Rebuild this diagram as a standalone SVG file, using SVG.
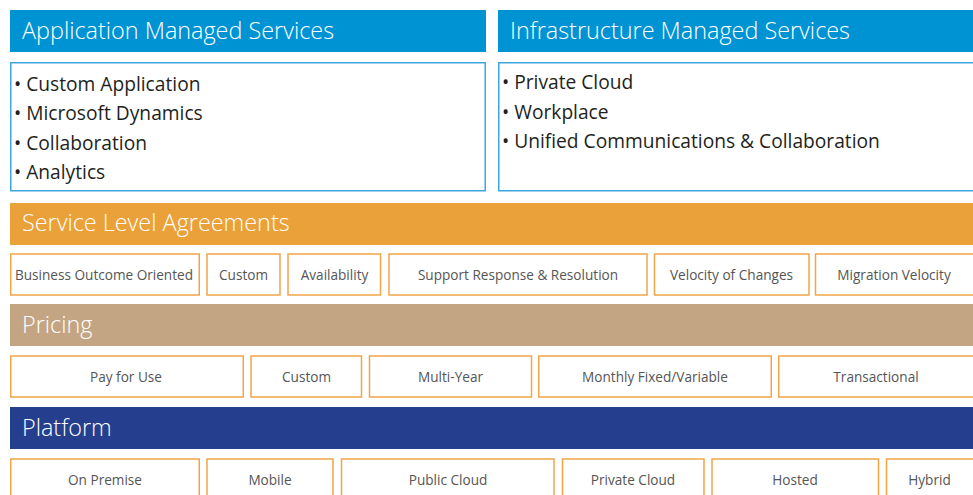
<svg xmlns="http://www.w3.org/2000/svg" width="973" height="495" viewBox="0 0 973 495">
<style>
.hdr{font-family:"Open Sans","Liberation Sans",sans-serif;font-weight:300;font-size:23.4px;fill:#ffffff}
.blue{fill:#0093d3}
.cbox{fill:#ffffff;stroke:#3ea6de;stroke-width:1.5}
.item{font-family:"Open Sans","Liberation Sans",sans-serif;font-size:19.2px;fill:#231f20}
.obox{fill:#ffffff;stroke:#f0a548;stroke-width:1.5}
.lbl{font-family:"Open Sans","Liberation Sans",sans-serif;font-size:13.6px;fill:#555555;text-anchor:middle}
</style>
<rect width="973" height="495" fill="#ffffff"/>
<g id="app-managed">
<rect class="blue" x="10" y="10" width="476" height="42"/>
<text class="hdr" x="22" y="39">Application Managed Services</text>
<rect class="cbox" x="10.75" y="62.75" width="474.5" height="128"/>
<text class="item" x="14" y="91">• Custom Application</text>
<text class="item" x="14" y="120">• Microsoft Dynamics</text>
<text class="item" x="14" y="149.5">• Collaboration</text>
<text class="item" x="14" y="178.5">• Analytics</text>
</g>
<g id="infra-managed">
<rect class="blue" x="498" y="10" width="476" height="42"/>
<text class="hdr" x="510" y="39">Infrastructure Managed Services</text>
<rect class="cbox" x="498.75" y="62.75" width="476" height="128"/>
<text class="item" x="502" y="89">• Private Cloud</text>
<text class="item" x="502" y="119">• Workplace</text>
<text class="item" x="502" y="148">• Unified Communications &amp; Collaboration</text>
</g>
<g id="sla">
<rect x="10" y="203" width="964" height="42" fill="#eaa13a"/>
<text class="hdr" x="22" y="231">Service Level Agreements</text>
</g>
<g id="sla-items">
<rect class="obox" x="10.75" y="254" width="188.5" height="41"/><text class="lbl" x="104" y="280">Business Outcome Oriented</text>
<rect class="obox" x="207" y="254" width="73" height="41"/><text class="lbl" x="243.5" y="280">Custom</text>
<rect class="obox" x="288" y="254" width="92.5" height="41"/><text class="lbl" x="334.5" y="280">Availability</text>
<rect class="obox" x="389" y="254" width="258" height="41"/><text class="lbl" x="518" y="280">Support Response &amp; Resolution</text>
<rect class="obox" x="654.5" y="254" width="154.5" height="41"/><text class="lbl" x="731.5" y="280">Velocity of Changes</text>
<rect class="obox" x="815.5" y="254" width="160" height="41"/><text class="lbl" x="894" y="280">Migration Velocity</text>
</g>
<g id="pricing">
<rect x="10" y="304" width="964" height="42" fill="#c3a583"/>
<text class="hdr" x="22" y="333">Pricing</text>
</g>
<g id="pricing-items">
<rect class="obox" x="10.75" y="356" width="232.5" height="41"/><text class="lbl" x="126" y="382">Pay for Use</text>
<rect class="obox" x="251" y="356" width="110.5" height="41"/><text class="lbl" x="306.5" y="382">Custom</text>
<rect class="obox" x="369.5" y="356" width="162" height="41"/><text class="lbl" x="450.5" y="382">Multi-Year</text>
<rect class="obox" x="538.75" y="356" width="232.5" height="41"/><text class="lbl" x="655" y="382">Monthly Fixed/Variable</text>
<rect class="obox" x="778.75" y="356" width="196" height="41"/><text class="lbl" x="876" y="382">Transactional</text>
</g>
<g id="platform">
<rect x="10" y="407" width="964" height="42" fill="#253e8d"/>
<text class="hdr" x="22" y="436">Platform</text>
</g>
<g id="platform-items">
<rect class="obox" x="10.75" y="459" width="188.5" height="40"/><text class="lbl" x="105" y="485">On Premise</text>
<rect class="obox" x="207" y="459" width="126" height="40"/><text class="lbl" x="270" y="485">Mobile</text>
<rect class="obox" x="341.5" y="459" width="212.5" height="40"/><text class="lbl" x="448" y="485">Public Cloud</text>
<rect class="obox" x="562.5" y="459" width="141.5" height="40"/><text class="lbl" x="633" y="485">Private Cloud</text>
<rect class="obox" x="712" y="459" width="166.5" height="40"/><text class="lbl" x="795" y="485">Hosted</text>
<rect class="obox" x="886.5" y="459" width="88" height="40"/><text class="lbl" x="929.5" y="485">Hybrid</text>
</g>
</svg>
